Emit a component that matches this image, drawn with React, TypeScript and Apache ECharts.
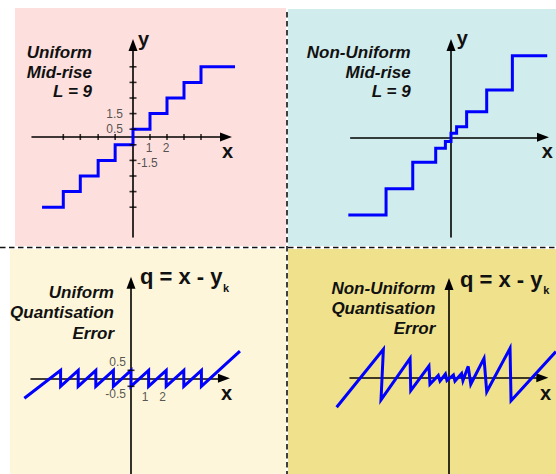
import { useEffect, useRef } from "react";
import * as echarts from "echarts";

// Uniform mid-rise quantiser (corner points of a step-'end' line)
const uniformStairs: number[][] = [
  [-5.35, -4.5], [-4.1, -3.5], [-3.1, -2.5], [-2.05, -1.5], [-1.05, -0.5],
  [0, 0.5], [1, 1.5], [2, 2.5], [3, 3.5], [4, 4.5], [6, 4.5],
];
const uniformXTicks = [-4.1, -3.1, -2.05, -1.05, 1, 2, 3, 4];
const uniformYTicks = [-4.5, -3.5, -2.5, -1.5, -0.5, 0.5, 1.5, 2.5, 3.5, 4.5];
const uniformYLabelsLeft = [1.5, 0.5];
const uniformYLabelsRight = [-1.5];
const uniformXLabels = [1, 2];

// Non-uniform mid-rise quantiser (step-'end' corner points)
const nonUniformStairs: number[][] = [
  [-6.04, -4.86], [-3.82, -3.21], [-2.25, -1.56], [-0.9, -0.69], [-0.33, -0.26],
  [0, 0.25], [0.33, 0.66], [0.92, 1.6], [2.1, 2.96], [3.61, 5.1], [5.66, 5.1],
];

// Uniform quantisation error q = x - y_k
const uniformError: number[][] = [
  [-6.06, -1.25],
  [-4, 0.5], [-4, -0.5], [-3, 0.5], [-3, -0.5], [-2, 0.5], [-2, -0.5],
  [-1, 0.5], [-1, -0.5], [0, 0.5], [0, -0.5], [1, 0.5], [1, -0.5],
  [2, 0.5], [2, -0.5], [3, 0.5], [3, -0.5], [4, 0.5], [4, -0.5],
  [6.19, 1.7],
];
const errorYTicks = [0.5, -0.5];
const errorYLabelsUp = [0.5];
const errorYLabelsDown = [-0.5];
const errorXLabels = [1, 2];

// Non-uniform quantisation error
const nonUniformError: number[][] = [
  [-6.61, -1.85], [-3.86, 1.78], [-4.0, -1.39], [-2.29, 1.21], [-2.25, -0.81],
  [-1.18, 0.73], [-1.12, -0.41], [-0.63, 0.14], [-0.53, -0.21], [-0.21, 0.23],
  [-0.12, -0.18], [0.26, 0.17], [0.35, -0.21], [0.74, 0.26], [0.82, -0.18],
  [1.13, 0.71], [1.28, -0.41], [2.06, 1.21], [2.22, -0.88], [3.59, 1.84],
  [3.65, -1.44], [6.29, 1.63],
];

const FONT = '"Liberation Sans", Arial, Helvetica, sans-serif';
const BLUE = "#0000ff";
const LABEL_GREY = "#2a2a2a";

// Each panel: pixel origin, pixel size of one unit, and visible axis extents
const panels = [
  { ox: 133, oy: 137, ux: 17, uy: 15.6, x: [-5.94, 5.47], y: [-6.41, 5.9] },
  { ox: 451, oy: 137.3, ux: 17, uy: 16, x: [-5.9, 5.41], y: [-6.23, 5.77] },
  { ox: 131, oy: 378.3, ux: 17.6, uy: 16, x: [-5.68, 5.28], y: [-5.98, 5.97] },
  { ox: 449, oy: 377.7, ux: 17, uy: 16, x: [-5.82, 5.49], y: [-6.02, 5.86] },
];
// Wider extent for the plotting grids so curves can run past the axis arrows
const DATA_EXTENT = [-7, 7];

type Panel = (typeof panels)[number];

function gridOf(p: Panel, xr: number[], yr: number[]) {
  return {
    left: p.ox + xr[0] * p.ux,
    top: p.oy - yr[1] * p.uy,
    width: (xr[1] - xr[0]) * p.ux,
    height: (yr[1] - yr[0]) * p.uy,
    containLabel: false,
    outerBoundsMode: "none",
  };
}

const axisLine = {
  show: true,
  onZero: true,
  symbol: ["none", "triangle"],
  symbolSize: [9, 12],
  lineStyle: { color: "#000", width: 1.6 },
};

function visibleAxis(i: number, range: number[]) {
  return {
    type: "value",
    gridIndex: i,
    min: range[0],
    max: range[1],
    axisLine,
    axisTick: { show: false },
    axisLabel: { show: false },
    splitLine: { show: false },
    z: 1,
  };
}

function hiddenAxis(i: number) {
  return {
    type: "value",
    gridIndex: i,
    show: false,
    min: DATA_EXTENT[0],
    max: DATA_EXTENT[1],
    splitLine: { show: false },
  };
}

function stairLine(i: number, data: number[][], step?: string) {
  return {
    type: "line",
    xAxisIndex: i,
    yAxisIndex: i,
    data,
    step: step || false,
    showSymbol: false,
    clip: false,
    silent: true,
    lineStyle: { color: BLUE, width: 3, join: "miter", cap: "butt" },
    z: 3,
  };
}

function ticks(i: number, data: number[][], size: number[]) {
  return {
    type: "scatter",
    xAxisIndex: i,
    yAxisIndex: i,
    data,
    symbol: "rect",
    symbolSize: size,
    itemStyle: { color: "#000" },
    silent: true,
    z: 4,
  };
}

function labels(
  i: number,
  items: { value: number[]; name: string }[],
  pos: number[],
  align: string
) {
  return {
    type: "scatter",
    xAxisIndex: i,
    yAxisIndex: i,
    data: items,
    symbol: "circle",
    symbolSize: 0,
    itemStyle: { color: LABEL_GREY },
    silent: true,
    label: {
      show: true,
      position: pos,
      align,
      verticalAlign: "middle",
      formatter: "{b}",
      fontSize: 12,
      fontFamily: FONT,
      color: LABEL_GREY,
      textBorderWidth: 0,
    },
    z: 5,
  };
}

const yItems = (vals: number[]) => vals.map((v) => ({ value: [0, v], name: String(v) }));
const xItems = (vals: number[]) => vals.map((v) => ({ value: [v, 0], name: String(v) }));

function txt(
  text: string,
  x: number,
  y: number,
  size: number,
  align: string,
  italic = false
) {
  return {
    type: "text",
    x,
    y,
    z: 50,
    silent: true,
    style: {
      text,
      fill: "#111",
      font: `${italic ? "italic " : ""}bold ${size}px ${FONT}`,
      align,
      verticalAlign: "middle",
    },
  };
}

function App() {
  const ref = useRef<HTMLDivElement>(null);

  useEffect(() => {
    document.body.style.margin = "0";
    const chart = echarts.init(ref.current!, undefined, { renderer: "svg" });

    const backgrounds = [
      { type: "rect", z: -10, shape: { x: 15, y: 8, width: 271, height: 238 }, style: { fill: "#fde0dd" } },
      { type: "rect", z: -10, shape: { x: 288, y: 9, width: 268, height: 237 }, style: { fill: "#d1ecec" } },
      { type: "rect", z: -10, shape: { x: 10, y: 249, width: 276, height: 225 }, style: { fill: "#fdf6da" } },
      { type: "rect", z: -10, shape: { x: 288, y: 249, width: 268, height: 225 }, style: { fill: "#f0e28c" } },
      {
        type: "line", z: -5,
        shape: { x1: 0, y1: 247.5, x2: 556, y2: 247.5 },
        style: { stroke: "#111", lineWidth: 1.6, lineDash: [5.5, 3.5] },
      },
      {
        type: "line", z: -5,
        shape: { x1: 287, y1: 12, x2: 287, y2: 474 },
        style: { stroke: "#111", lineWidth: 1.6, lineDash: [5.5, 3.5] },
      },
    ];

    const texts = [
      txt("Uniform", 92, 52.5, 17, "right", true),
      txt("Mid-rise", 92, 72.5, 17, "right", true),
      txt("L = 9", 92, 91, 17, "right", true),
      txt("Non-Uniform", 410.7, 52.5, 17, "right", true),
      txt("Mid-rise", 410.7, 72.5, 17, "right", true),
      txt("L = 9", 410.7, 91, 17, "right", true),
      txt("Uniform", 114, 292.5, 17, "right", true),
      txt("Quantisation", 114, 312.8, 17, "right", true),
      txt("Error", 114, 333.8, 17, "right", true),
      txt("Non-Uniform", 435.3, 288, 17, "right", true),
      txt("Quantisation", 435.3, 308.3, 17, "right", true),
      txt("Error", 435.3, 328.3, 17, "right", true),
      txt("y", 138, 38.5, 20, "left"),
      txt("x", 222, 151, 20, "left"),
      txt("y", 456.7, 38, 20, "left"),
      txt("x", 541.7, 151.3, 20, "left"),
      txt("x", 221, 393, 20, "left"),
      txt("x", 540, 393, 20, "left"),
      txt("q = x - y", 140, 276.7, 22, "left"),
      txt("k", 223, 288.2, 11, "left"),
      txt("q = x - y", 460, 279.7, 22, "left"),
      txt("k", 543.3, 289.5, 11, "left"),
    ];

    // grids 0-3: plotting grids (hidden wide axes); grids 4-7: drawn axes
    const grids = [
      ...panels.map((p) => gridOf(p, DATA_EXTENT, DATA_EXTENT)),
      ...panels.map((p) => gridOf(p, p.x, p.y)),
    ];

    chart.setOption({
      animation: false,
      grid: grids,
      xAxis: [
        ...panels.map((_, i) => hiddenAxis(i)),
        ...panels.map((p, i) => visibleAxis(i + 4, p.x)),
      ],
      yAxis: [
        ...panels.map((_, i) => hiddenAxis(i)),
        ...panels.map((p, i) => visibleAxis(i + 4, p.y)),
      ],
      graphic: { elements: [...backgrounds, ...texts] },
      series: [
        // Uniform mid-rise
        ticks(0, uniformXTicks.map((v) => [v, 0]), [1.6, 6]),
        ticks(0, uniformYTicks.map((v) => [0, v]), [7, 1.6]),
        stairLine(0, uniformStairs, "end"),
        labels(0, yItems(uniformYLabelsLeft), [-10, 0], "right"),
        labels(0, yItems(uniformYLabelsRight), [4, 3], "left"),
        labels(0, xItems(uniformXLabels), [-1, 10.5], "center"),
        // Non-uniform mid-rise
        stairLine(1, nonUniformStairs, "end"),
        // Uniform error
        stairLine(2, uniformError),
        ticks(2, errorYTicks.map((v) => [0, v]), [7, 1.6]),
        labels(2, yItems(errorYLabelsUp), [-5, -8.6], "right"),
        labels(2, yItems(errorYLabelsDown), [-5, 8], "right"),
        labels(2, xItems(errorXLabels), [-3.5, 19], "center"),
        // Non-uniform error
        stairLine(3, nonUniformError),
      ],
    });

    return () => chart.dispose();
  }, []);

  return <div ref={ref} style={{ width: 556, height: 474 }} />;
}

export default App;
